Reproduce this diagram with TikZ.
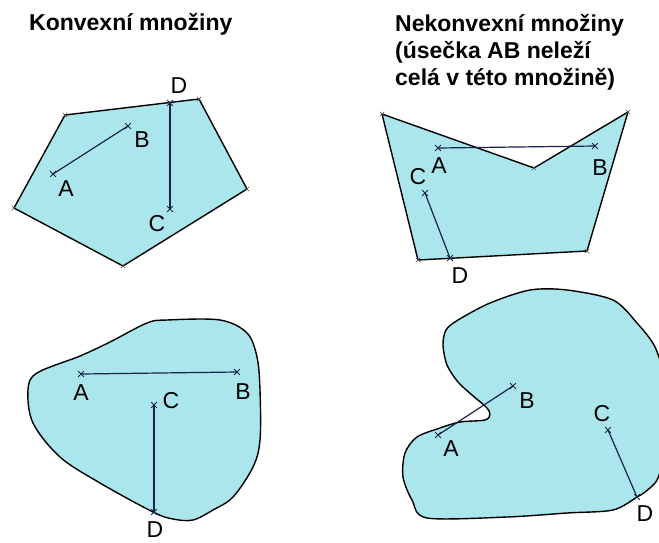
\documentclass[tikz,border=0pt]{standalone}
\usepackage{fontspec}
\setmainfont{Liberation Sans}
\usetikzlibrary{shapes.misc}
\definecolor{setfill}{RGB}{170,230,236}
\definecolor{segline}{RGB}{25,35,75}

\begin{document}
\begin{tikzpicture}[
  x=1pt, y=-1pt,
  region/.style={draw=black, fill=setfill, line width=1.4pt, line join=round},
  seg/.style={draw=segline, line width=1.2pt},
  pt/.style={cross out, draw=segline, line width=0.8pt, minimum size=5pt, inner sep=0pt},
  corner/.style={cross out, draw=black!70, line width=0.5pt, minimum size=4pt, inner sep=0pt},
  lbl/.style={font=\fontsize{23}{23}\selectfont, inner sep=0pt},
  heading/.style={font=\bfseries\fontsize{23}{27}\selectfont, inner sep=0pt, align=left}
]
\clip (0,0) rectangle (659,542);
\fill[white] (0,0) rectangle (659,542);

\node[heading, anchor=base west] (hconv) at (29,30) {Konvexní množiny};
\node[heading, anchor=north west] (hnonconv) at (395,14) {Nekonvexní množiny\\(úsečka AB neleží\\celá v této množině)};

\coordinate (k1) at (65,115);
\coordinate (k2) at (199,99);
\coordinate (k3) at (247,189);
\coordinate (k4) at (123,266);
\coordinate (k5) at (14,208);
\draw[region] (k1) -- (k2) -- (k3) -- (k4) -- (k5) -- cycle;

\coordinate (n1) at (382,114);
\coordinate (n2) at (534,168);
\coordinate (n3) at (628,112);
\coordinate (n4) at (587,251);
\coordinate (n5) at (418,260);
\draw[region] (n1) -- (n2) -- (n3) -- (n4) -- (n5) -- cycle;

\foreach \c in {k1,k2,k3,k4,k5,n1,n2,n3,n4,n5}
  \node[corner] (m\c) at (\c) {};

\draw[region] plot[smooth cycle, tension=0.55] coordinates {
  (28,390) (37,373) (80,356) (110,342) (147,323) (167,320) (220,320)
  (247,333) (257,357) (260,390) (260,440) (253,467) (233,497) (213,510)
  (193,520) (173,519) (153,512) (100,483) (60,457) (33,423)};

\draw[region] plot[smooth cycle, tension=0.5] coordinates {
  (443,345) (446,330) (458,320) (490,303) (530,290) (567,290) (613,300)
  (637,323) (655,347) (664,380) (666,440) (658,478) (645,492) (637,497)
  (613,510) (567,513) (507,517) (427,518) (412,500) (403,477) (405,453)
  (417,437) (440,428) (460,422) (485,420) (490,414) (486,407) (472,395)
  (458,382) (447,365)};

\node[pt] (A1) at (53,174) {};
\node[pt] (B1) at (128,126) {};
\node[pt] (C1) at (170,209) {};
\node[pt] (D1) at (170,103) {};
\node[pt] (A2) at (438,148) {};
\node[pt] (B2) at (595,146) {};
\node[pt] (C2) at (425,193) {};
\node[pt] (D2) at (450,258) {};
\node[pt] (A3) at (81,374) {};
\node[pt] (B3) at (237,372) {};
\node[pt] (C3) at (154,405) {};
\node[pt] (D3) at (154,512) {};
\node[pt] (A4) at (438,435) {};
\node[pt] (B4) at (513,386) {};
\node[pt] (C4) at (608,430) {};
\node[pt] (D4) at (637,497) {};

\draw[seg] (A1.center) -- (B1.center);
\draw[seg] (C1.center) -- (D1.center);
\draw[seg] (A2.center) -- (B2.center);
\draw[seg] (C2.center) -- (D2.center);
\draw[seg] (A3.center) -- (B3.center);
\draw[seg] (C3.center) -- (D3.center);
\draw[seg] (A4.center) -- (B4.center);
\draw[seg] (C4.center) -- (D4.center);

\node[lbl] (lA1) at (66,189) {A};
\node[lbl] (lB1) at (142,140) {B};
\node[lbl] (lC1) at (157,224) {C};
\node[lbl] (lD1) at (179,86) {D};
\node[lbl] (lA2) at (439,166) {A};
\node[lbl] (lB2) at (600,168) {B};
\node[lbl] (lC2) at (418,177) {C};
\node[lbl] (lD2) at (460,276) {D};
\node[lbl] (lA3) at (81,393) {A};
\node[lbl] (lB3) at (243,392) {B};
\node[lbl] (lC3) at (171,401) {C};
\node[lbl] (lD3) at (155,530) {D};
\node[lbl] (lA4) at (451,449) {A};
\node[lbl] (lB4) at (527,401) {B};
\node[lbl] (lC4) at (602,414) {C};
\node[lbl] (lD4) at (645,514) {D};
\end{tikzpicture}
\end{document}
